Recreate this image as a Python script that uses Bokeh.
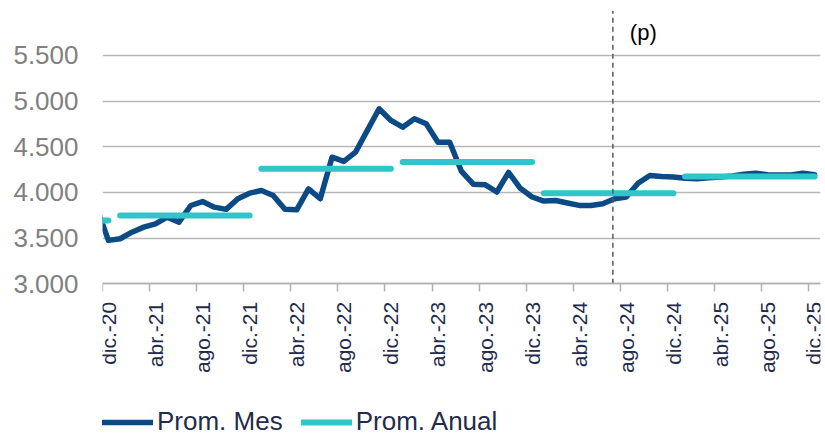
import math
from bokeh.plotting import figure
from bokeh.models import Range1d, FixedTicker, Label, Legend, LegendItem, ColumnDataSource
from bokeh.embed import file_html
from bokeh.resources import INLINE

# Monthly values, nov-20 (index -1, clipped) through dic-25 (index 60)
month_index = list(range(-1, 61))
prom_mes = [3840, 3475, 3493, 3565, 3620, 3657, 3730, 3675, 3857, 3900, 3839, 3815, 3931,
            3992, 4021, 3967, 3815, 3810, 4040, 3931, 4386, 4340, 4441, 4679, 4916, 4788,
            4715, 4807, 4752, 4550, 4550, 4230, 4090, 4085, 4005, 4220, 4045, 3950,
            3905, 3912, 3885, 3858, 3857, 3876, 3930, 3950, 4100, 4186, 4175, 4168,
            4155, 4150, 4160, 4170, 4180, 4200, 4210, 4195, 4190, 4190, 4210, 4195]

# Annual averages: year, first month index, last month index, value
years = [2020, 2021, 2022, 2023, 2024, 2025]
year_start = [-11, 1, 13, 25, 37, 49]
year_end = [0, 12, 24, 36, 48, 60]
prom_anual = [3693, 3748, 4259, 4332, 3992, 4175]

tick_pos = [0, 4, 8, 12, 16, 20, 24, 28, 32, 36, 40, 44, 48, 52, 56, 60]
tick_labels = ["dic.-20", "abr.-21", "ago.-21", "dic.-21", "abr.-22", "ago.-22", "dic.-22",
               "abr.-23", "ago.-23", "dic.-23", "abr.-24", "ago.-24", "dic.-24", "abr.-25",
               "ago.-25", "dic.-25"]
y_ticks = [3000, 3500, 4000, 4500, 5000, 5500]
y_labels = ["3.000", "3.500", "4.000", "4.500", "5.000", "5.500"]
y_min, y_max = 3000, 5992
proj_start = 42.86

FONT = "Liberation Sans"
NAVY = "#0C4A86"
CYAN = "#30C6C9"
TXT = "#1F2C4C"

# frame covers the axis-label and legend area; the x axis sits at y = 3000
p = figure(width=825, height=437, output_backend="svg", toolbar_location=None,
           x_range=Range1d(-0.5, 60.5), y_range=Range1d(1317, y_max),
           min_border_left=102, min_border_right=5, min_border_top=10, min_border_bottom=0)
p.outline_line_color = None
p.background_fill_color = "white"
p.border_fill_color = "white"

# grid
p.xgrid.visible = False
p.ygrid.grid_line_color = "#B8B8B8"
p.ygrid.grid_line_width = 1.5

# y axis
p.yaxis.ticker = FixedTicker(ticks=y_ticks)
p.yaxis.major_label_overrides = {t: l for t, l in zip(y_ticks, y_labels)}
p.yaxis.axis_line_color = None
p.yaxis.major_tick_line_color = None
p.yaxis.minor_tick_line_color = None
p.yaxis.major_tick_out = 0
p.yaxis.major_label_text_font = FONT
p.yaxis.major_label_text_font_size = "26px"
p.yaxis.major_label_text_color = "#808080"
p.yaxis.major_label_standoff = 24

# x axis
p.xaxis.fixed_location = y_min
p.xaxis.ticker = FixedTicker(ticks=tick_pos, minor_ticks=[t - 0.5 for t in tick_pos])
p.xaxis.major_label_overrides = {t: l for t, l in zip(tick_pos, tick_labels)}
p.xaxis.major_label_orientation = math.pi / 2
p.xaxis.axis_line_color = "#B0B0B0"
p.xaxis.axis_line_width = 1.5
p.xaxis.major_tick_line_color = None
p.xaxis.major_tick_out = 0
p.xaxis.major_tick_in = 0
p.xaxis.minor_tick_line_color = "#B0B0B0"
p.xaxis.minor_tick_line_width = 1.5
p.xaxis.minor_tick_out = 8
p.xaxis.minor_tick_in = 0
p.xaxis.major_label_text_font = FONT
p.xaxis.major_label_text_font_size = "21px"
p.xaxis.major_label_text_color = TXT
p.xaxis.major_label_standoff = 10

# data
src = ColumnDataSource(dict(x=month_index, y=prom_mes))
r_mes = p.line("x", "y", source=src, line_color=NAVY, line_width=5.5,
               line_join="round", line_cap="round")
src_a = ColumnDataSource(dict(x0=year_start, x1=year_end, y=prom_anual))
r_anual = p.segment(x0="x0", y0="y", x1="x1", y1="y", source=src_a, line_color=CYAN,
                    line_width=6, line_cap="round")

# projection marker
p.segment(x0=[proj_start], y0=[y_min], x1=[proj_start], y1=[y_max], line_color="#595959",
          line_width=1.5, line_dash="5 4")
p.add_layout(Label(x=44.3, y=5748, text="(p)", text_font=FONT,
                   text_font_size="22px", text_color="black", text_baseline="middle"))

legend = Legend(items=[LegendItem(label="Prom. Mes", renderers=[r_mes]),
                       LegendItem(label="Prom. Anual", renderers=[r_anual])],
                location=(0, 0), orientation="horizontal")
legend.border_line_color = None
legend.background_fill_alpha = 0
legend.padding = 0
legend.margin = 0
legend.spacing = 18
legend.glyph_width = 51
legend.glyph_height = 26
legend.label_height = 26
legend.label_standoff = 4
legend.label_text_font = FONT
legend.label_text_font_size = "26px"
legend.label_text_color = TXT
p.add_layout(legend)

open("out.html", "w").write(file_html(p, INLINE))
